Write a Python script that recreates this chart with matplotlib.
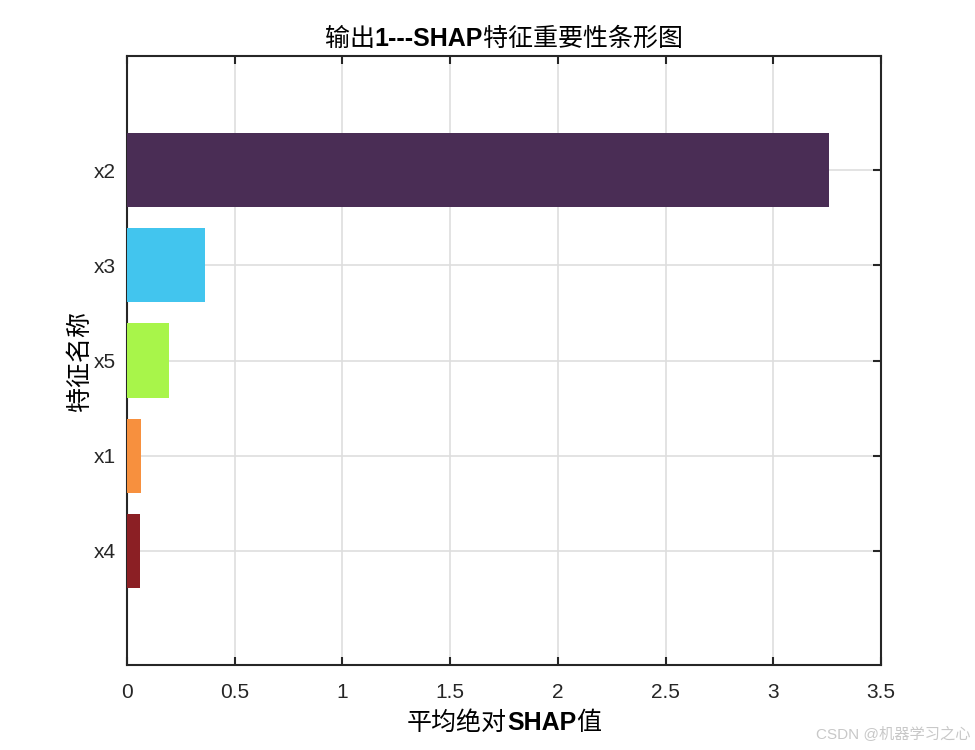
import matplotlib
matplotlib.use("Agg")
import matplotlib.pyplot as plt
from matplotlib.offsetbox import TextArea, HPacker, AnchoredOffsetbox

plt.rcParams['font.family'] = ['Liberation Sans', 'Noto Sans CJK SC', 'DejaVu Sans']

features = ['x4', 'x1', 'x5', 'x3', 'x2']
shap_vals = [0.059, 0.063, 0.195, 0.362, 3.257]
colors = ['#8b1f24', '#f7903e', '#a8f54a', '#42c5ee', '#4a2d55']

fig = plt.figure(figsize=(9.75, 7.5), dpi=100)
ax = fig.add_axes([0.1303, 0.1133, 0.7733, 0.812])

pos = range(1, len(features) + 1)
ax.barh(pos, shap_vals, height=0.78, color=colors, zorder=3)

ax.set_xlim(0, 3.5)
ax.set_ylim(-0.2, 6.2)
ax.set_xticks([0, 0.5, 1, 1.5, 2, 2.5, 3, 3.5])
ax.set_xticklabels(['0', '0.5', '1', '1.5', '2', '2.5', '3', '3.5'])
ax.set_yticks(list(pos))
ax.set_yticklabels(features)
ax.grid(True, color='#dedede', linewidth=1.2, zorder=0)
ax.tick_params(direction='in', top=True, right=True, length=6, width=1.5,
               labelsize=15, colors='#262626')
ax.tick_params(axis='x', pad=13)
ax.tick_params(axis='y', pad=8)
for s in ax.spines.values():
    s.set_linewidth(1.5)
    s.set_color('#262626')


def mixed_text(parts, size):
    boxes = [TextArea(t, textprops=dict(fontsize=size, fontweight=w, color='#000000'))
             for t, w in parts]
    return HPacker(children=boxes, align='baseline', pad=0, sep=0)


title = AnchoredOffsetbox(loc='lower center', child=mixed_text(
    [('输出', 'normal'), ('1---SHAP', 'bold'), ('特征重要性条形图', 'normal')], 18),
    bbox_to_anchor=(0.5, 1.008), bbox_transform=ax.transAxes, frameon=False, pad=0, borderpad=0)
ax.add_artist(title)

xlab = AnchoredOffsetbox(loc='upper center', child=mixed_text(
    [('平均绝对', 'normal'), ('SHAP', 'bold'), ('值', 'normal')], 18),
    bbox_to_anchor=(0.5, -0.075), bbox_transform=ax.transAxes, frameon=False, pad=0, borderpad=0)
ax.add_artist(xlab)

ax.set_ylabel('特征名称', fontsize=18, labelpad=1)

fig.text(0.995, 0.01, 'CSDN @机器学习之心', ha='right', va='bottom', fontsize=11, color='#c8c8c8')

fig.savefig('out.png', dpi=100)
